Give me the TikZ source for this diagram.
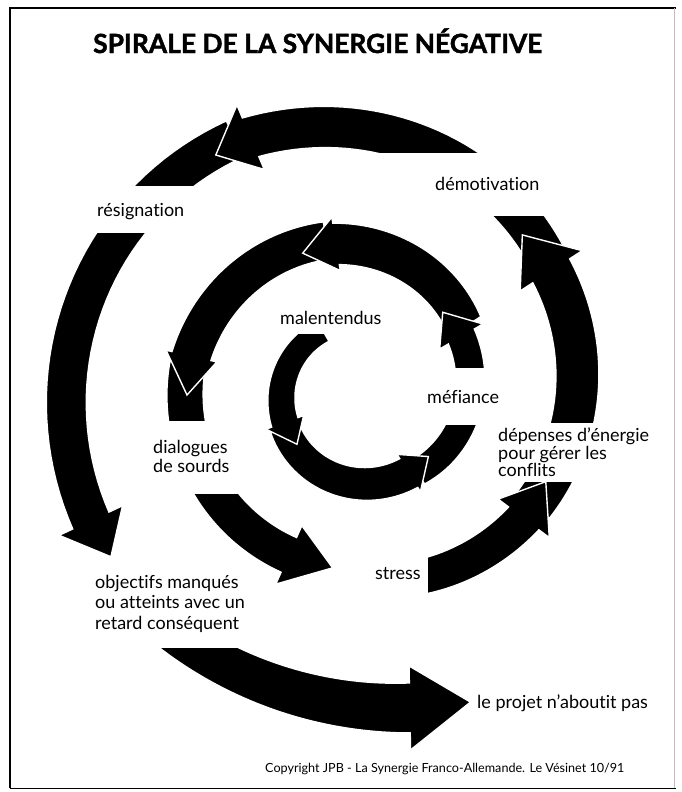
\documentclass[tikz,border=0pt]{standalone}
\usepackage{fontspec}
\setmainfont{Lato}[Ligatures=NoCommon]
\newfontfamily\titlefont{Lato}[FakeBold=1.6, Ligatures=NoCommon]

\tikzset{
  spirtext/.style={inner sep=0pt, font=\fontsize{18}{19}\selectfont, align=left},
  blockarrow/.style={fill=black, draw=white, line width=1.4pt, line join=miter},
  mask/.style={fill=white}
}

% centre of the spiral (pixel coordinates)
\newcommand{\spx}{360}
\newcommand{\spy}{395}

% #1 start angle, #2 head angle, #3/#4 radius, #5/#6 width, #7 head half width, #8 tip angle
\newcommand{\spiralarrow}[8]{%
  \fill[blockarrow]
    plot[domain=#1:#2, samples=40]
      ({\spx+(#3+(#4-#3)*(\x-#1)/(#2-#1)+(#5+(#6-#5)*(\x-#1)/(#2-#1))/2)*cos(\x)},
       {\spy-(#3+(#4-#3)*(\x-#1)/(#2-#1)+(#5+(#6-#5)*(\x-#1)/(#2-#1))/2)*sin(\x)})
    -- ({\spx+(#4+#7)*cos(#2)},{\spy-(#4+#7)*sin(#2)})
    -- ({\spx+#4*cos(#8)},{\spy-#4*sin(#8)})
    -- ({\spx+(#4-#7)*cos(#2)},{\spy-(#4-#7)*sin(#2)})
    -- plot[domain=#2:#1, samples=40]
      ({\spx+(#3+(#4-#3)*(\x-#1)/(#2-#1)-(#5+(#6-#5)*(\x-#1)/(#2-#1))/2)*cos(\x)},
       {\spy-(#3+(#4-#3)*(\x-#1)/(#2-#1)-(#5+(#6-#5)*(\x-#1)/(#2-#1))/2)*sin(\x)})
    -- cycle;}

\begin{document}
\begin{tikzpicture}[x=1pt,y=-1pt]
  \useasboundingbox (0,0) rectangle (681,792);

  % frame
  \draw[line width=1.6pt] (10,788) -- (10,8) -- (676,8);
  \draw[line width=1pt] (10,788) -- (676,788);
  \draw[line width=0.6pt, black!25] (674,8) -- (674,788);

  \node[anchor=base west, inner sep=0pt, font=\fontsize{26.4}{30}\titlefont\bfseries]
    (title) at (93,53) {SPIRALE DE LA SYNERGIE NÉGATIVE};

  % last arrow out of the spiral
  \begin{scope}
    \renewcommand{\spx}{403}
    \renewcommand{\spy}{319}
    \spiralarrow{232}{271}{389}{389}{40}{50}{42}{280}
  \end{scope}

  % spiral, drawn from the outside in
  \spiralarrow{836}{925}{285}{297}{40}{40}{35}{933}
  \spiralarrow{756}{833}{232}{280}{40}{42}{35}{841}
  \spiralarrow{687}{753}{205}{228}{42}{44}{37}{764.6}
  \spiralarrow{628}{683}{184}{205}{34}{38}{32}{695}
  \spiralarrow{530}{606}{175}{175}{36}{38}{32}{621}
  \spiralarrow{462}{527}{158}{173}{38}{40}{26}{540}
  \spiralarrow{393}{459}{125}{153}{38}{42}{27}{472}
  \spiralarrow{306}{390}{96}{117}{28}{30}{25}{405}
  \spiralarrow{203}{302}{82}{92}{30}{34}{22}{318}
  \spiralarrow{120}{200}{74}{80}{24}{28}{20}{218}

  % white boxes behind the texts
  \fill[mask] (268,298) rectangle (398,334);
  \fill[mask] (418,368) rectangle (508,425);
  \fill[mask] (145,421) rectangle (245,494);
  \fill[mask] (337,540) rectangle (428,602);
  \fill[mask] (488,423) rectangle (662,482);
  \fill[mask] (350,153) rectangle (560,216);
  \fill[mask] (78,186) rectangle (245,233);
  \fill[mask] (85,566) rectangle (252,648);
  \fill[mask] (470,684) rectangle (662,722);

  \node[spirtext, anchor=base west] (malent) at (280,324) {malentendus};
  \node[spirtext, anchor=base west] (mefi) at (427,403) {méfiance};
  \node[spirtext, anchor=north west] (dialog) at (153,440) {dialogues\\de sourds};
  \node[spirtext, anchor=base west] (stress) at (375,579) {stress};
  \node[spirtext, anchor=north west, font=\fontsize{18}{17.5}\selectfont] (depens) at (498,428)
    {dépenses d’énergie\\pour gérer les\\conflits};
  \node[spirtext, anchor=base west] (demot) at (435,190) {démotivation};
  \node[spirtext, anchor=base west] (resig) at (97,216) {résignation};
  \node[spirtext, anchor=north west, font=\fontsize{18}{20.5}\selectfont] (objec) at (95,575)
    {objectifs manqués\\ou atteints avec un\\retard conséquent};
  \node[spirtext, anchor=base west] (projet) at (477,708) {le projet n’aboutit pas};

  \node[anchor=base west, inner sep=0pt, font=\fontsize{12.6}{14}\selectfont]
    (copyr) at (265,772) {Copyright JPB - La Synergie Franco-Allemande. Le Vésinet 10/91};
\end{tikzpicture}
\end{document}
